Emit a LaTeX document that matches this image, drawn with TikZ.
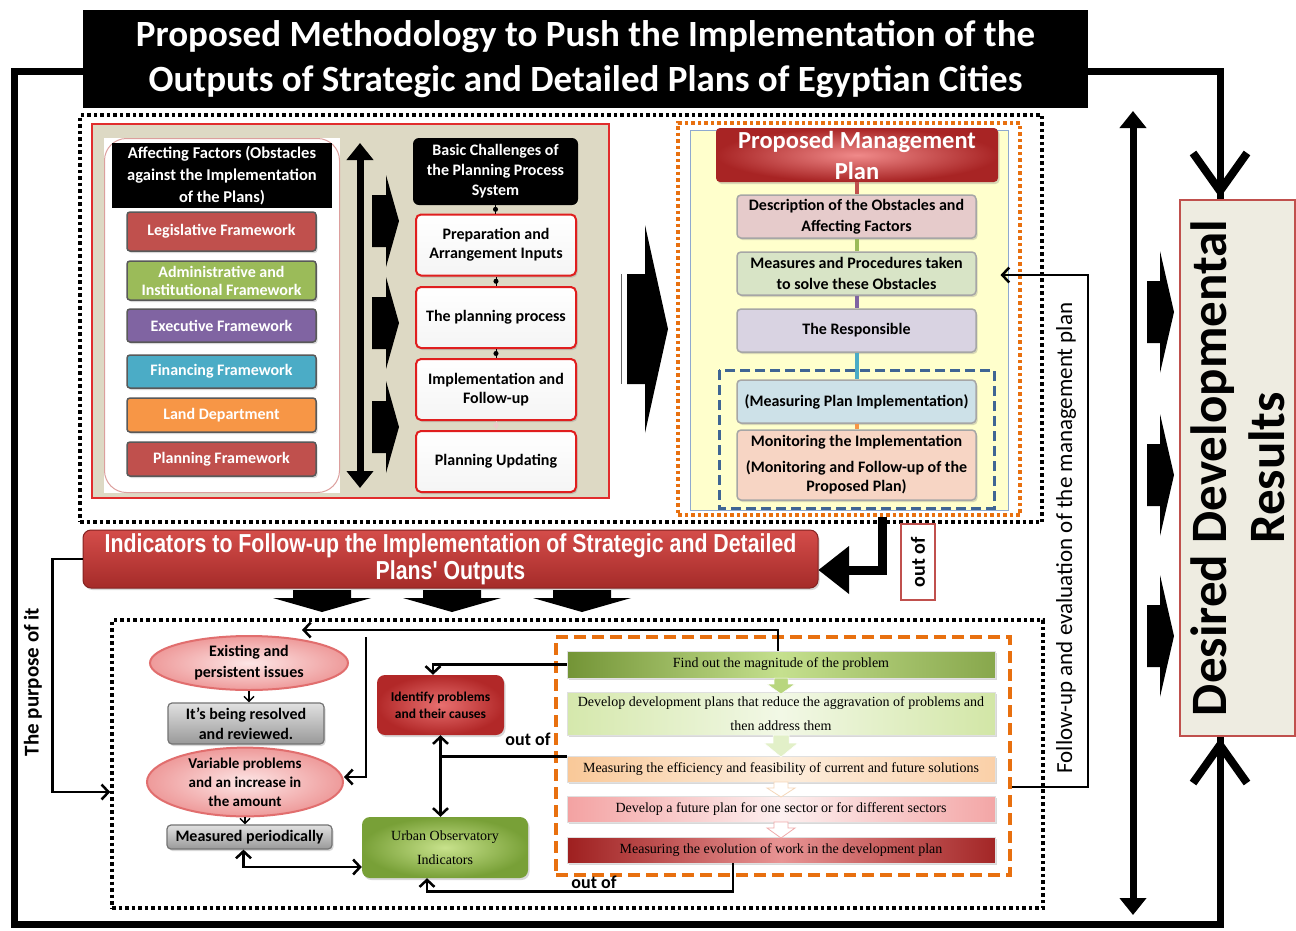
\documentclass[tikz,border=0pt]{standalone}
\usepackage{fontspec}
\setmainfont{Carlito}
\newfontfamily\serf{Liberation Serif}
\newfontfamily\narrowf[FakeStretch=0.82]{Liberation Sans}
\usetikzlibrary{shadows,arrows.meta,calc,shapes.geometric}
\newcommand\fsz[2]{\fontsize{#1}{#2}\selectfont}
\newcommand\blockR[7]{\path[#7] (#1,#4-#5) -- (#2,#4-#5) -- (#2,#4-#6) -- (#3,#4) -- (#2,#4+#6) -- (#2,#4+#5) -- (#1,#4+#5) -- cycle;}
\newcommand\blockD[7]{\path[#7] (#1-#5,#2) -- (#1+#5,#2) -- (#1+#5,#3) -- (#1+#6,#3) -- (#1,#4) -- (#1-#6,#3) -- (#1-#5,#3) -- cycle;}
\definecolor{redA}{HTML}{C0504D}
\definecolor{greenA}{HTML}{9BBB59}
\definecolor{purpleA}{HTML}{8064A2}
\definecolor{cyanA}{HTML}{4BACC6}
\definecolor{orangeA}{HTML}{F79646}
\definecolor{beige}{HTML}{DDD9C4}
\definecolor{yel}{HTML}{FFFFCC}
\definecolor{blueD}{HTML}{3F6594}
\definecolor{blueL}{HTML}{8FA9CF}
\definecolor{orangeD}{HTML}{E8700F}
\definecolor{pinkbox}{HTML}{E6CBCB}
\definecolor{greenbox}{HTML}{D8E4C6}
\definecolor{purplebox}{HTML}{D9D3E2}
\definecolor{bluebox}{HTML}{CDE1E8}
\definecolor{peachbox}{HTML}{F7D5C4}
\definecolor{resfill}{HTML}{EEECE1}
\definecolor{redT}{HTML}{D44D4A}
\definecolor{redB}{HTML}{A52B29}
\definecolor{redDark}{HTML}{A82424}
\definecolor{redLight}{HTML}{F08A8A}
\definecolor{pinkIn}{HTML}{FDE6E6}
\definecolor{pinkOut}{HTML}{EE9A9A}
\definecolor{grnDark}{HTML}{739436}
\definecolor{grnLight}{HTML}{C5E08E}
\definecolor{grnMid}{HTML}{B8D67E}
\tikzset{
 dotframe/.style={draw=black, line width=3.5pt, dash pattern=on 3.5pt off 3pt},
 odotframe/.style={draw=orangeD, line width=3.5pt, dash pattern=on 3.5pt off 3pt},
 conn/.style={draw=black, line width=2.5pt},
 barb/.tip={Straight Barb[length=7pt,width=15pt]},
 sm/.tip={Straight Barb[length=5pt,width=10pt]},
 bigtri/.tip={Triangle[length=17pt,width=26pt]},
 shad/.style={drop shadow={opacity=0.3,shadow xshift=1.5pt,shadow yshift=-2pt}},
 colbox/.style={shad, rounded corners=3pt, draw=black!65, line width=1.5pt, text=white, font=\bfseries\fsz{16}{18}, minimum width=189, align=center, inner sep=1pt},
 hdr/.style={fill=black, text=white, align=center, inner sep=1pt},
 wbox/.style={shad, rounded corners=5pt, draw={rgb,255:red,224;green,30;blue,30}, line width=2pt, top color=white, bottom color=black!4, font=\bfseries\fsz{16}{19}, minimum width=160, minimum height=61, align=center, inner sep=1pt},
 mbox/.style={shad, rounded corners=4pt, draw=black!35, line width=1.5pt, font=\bfseries\fsz{16}{21}, minimum width=239, minimum height=43, align=center, inner sep=1pt},
 sbox/.style={shad, draw=black!12, line width=0.8pt, minimum width=428, minimum height=26, font=\serf\fsz{14}{17}, align=center, inner sep=1pt},
 ell/.style={ellipse, draw={rgb,255:red,225;green,110;blue,110}, line width=2pt, inner color=pinkIn, outer color=pinkOut, font=\bfseries\fsz{16}{21}, align=center, inner sep=0pt},
 gbox/.style={shad, rounded corners=4pt, draw=black!55, line width=1.2pt, top color=black!12, bottom color=black!40, font=\bfseries\fsz{16}{20}, align=center, inner sep=1pt},
 lab/.style={font=\bfseries\fsz{18}{20}},
}
\begin{document}
\begin{tikzpicture}[x=1pt,y=-1pt]
\useasboundingbox (0,0) rectangle (1296,930);
\fill[white] (0,0) rectangle (1296,930);
% ---------- results box and outer frame
\node[draw=redA, line width=2pt, fill=resfill, minimum width=115, minimum height=536, inner sep=0] (res) at (1237.5,468) {};
\node[rotate=90, align=center, font=\bfseries\fsz{51}{58}] (restext) at (res.center) {Desired Developmental\\Results};
\coordinate (tl) at (14,71); \coordinate (tr) at (1220,71);
\coordinate (bl) at (14,924); \coordinate (br) at (1220,924);
\draw[line width=7pt] (res.north -| tr) -- (tr) -- (tl) -- (bl) -- (br) -- (res.south -| br);
\draw[line width=8pt] ($(res.north -| tr)+(-27,-46)$) -- ($(res.north -| tr)+(0,-8)$) -- ($(res.north -| tr)+(27,-46)$);
\draw[line width=8pt] ($(res.south -| br)+(-27,46)$) -- ($(res.south -| br)+(0,8)$) -- ($(res.south -| br)+(27,46)$);
% ---------- title
\node[fill=black, minimum width=1005, minimum height=98, inner sep=0, text=white, align=center, font=\bfseries\fsz{37}{45}] (title) at (585.5,59) {Proposed Methodology to Push the Implementation of the\\Outputs of Strategic and Detailed Plans of Egyptian Cities};
% ---------- top frame
\node[dotframe, minimum width=962, minimum height=407, inner sep=0] (tfr) at (561,318.5) {};
% ---------- left panel
\node[draw={rgb,255:red,225;green,45;blue,45}, line width=1.2pt, fill=beige, minimum width=517, minimum height=374, inner sep=0] (lpan) at (350.5,311) {};
\fill[white] (104,138) rectangle (340,493);
\draw[draw=redA!55, line width=1pt, rounded corners=22pt] (104.5,138.5) rectangle (339.5,492.5);
\node[hdr, minimum width=220, minimum height=65, font=\bfseries\fsz{16.5}{22}] (aff) at (222,175.5) {Affecting Factors (Obstacles\\against the Implementation\\of the Plans)};
\node[colbox, fill=redA, minimum height=39] (leg) at (221.5,231.5) {Legislative Framework};
\node[colbox, fill=greenA, minimum height=39] (adm) at (221.5,280.5) {Administrative and\\Institutional Framework};
\node[colbox, fill=purpleA, minimum height=33] (exe) at (221.5,325.5) {Executive Framework};
\node[colbox, fill=cyanA, minimum height=33] (fin) at (221.5,371.5) {Financing Framework};
\node[colbox, fill=orangeA, minimum height=34] (land) at (221.5,415) {Land Department};
\node[colbox, fill=redA, minimum height=34] (planf) at (221.5,459) {Planning Framework};
\coordinate (va1) at (360,143); \coordinate (va2) at (360,488);
\draw[line width=7pt, {bigtri}-{bigtri}] (va1) -- (va2);
\blockR{372}{386}{399}{221}{26}{46}{fill=black}
\blockR{372}{386}{399}{323}{26}{46}{fill=black}
\blockR{372}{386}{399}{427}{26}{46}{fill=black}
\node[hdr, rounded corners=6pt, minimum width=165, minimum height=67, font=\bfseries\fsz{16}{20}] (bc) at (495.5,171.5) {Basic Challenges of\\the Planning Process\\System};
\node[wbox] (prep) at (496,245) {Preparation and\\Arrangement Inputs};
\node[wbox] (proc) at (496,317.5) {The planning process};
\node[wbox] (impl) at (496,389.5) {Implementation and\\Follow-up};
\node[wbox] (upd) at (496,461.5) {Planning Updating};
\foreach \a/\b in {bc/prep,prep/proc,proc/impl}
  \draw[line width=0.6pt] (\a.south) -- node[circle,fill=black,inner sep=1.8pt]{} (\a.south |- \b.north);
\draw[line width=0.6pt, redA!30] (impl.south) -- node[circle,fill=redA!30,inner sep=1.8pt]{} (upd.north);
% ---------- big arrow between panels
\blockR{627}{645}{668}{329}{55}{104}{fill=black}
\draw[black!60, line width=1.5pt] (621.5,274) -- (621.5,384);
% ---------- right panel
\node[odotframe, minimum width=342, minimum height=392, inner sep=0] (ofr) at (849,319) {};
\node[draw=blueL, line width=1pt, fill=yel, minimum width=318, minimum height=380, inner sep=0] (ypan) at (849,320) {};
\node[shad, rounded corners=4pt, inner color=redLight, outer color=redDark, text=white, minimum width=282, minimum height=54, inner sep=0, align=center, font=\bfseries\fsz{24.5}{31}] (mp) at (857,155) {Proposed Management\\Plan};
\node[mbox, fill=pinkbox] (desc) at (856.5,216.5) {Description of the Obstacles and\\Affecting Factors};
\node[mbox, fill=greenbox] (meas) at (856.5,273.5) {Measures and Procedures taken\\to solve these Obstacles};
\node[mbox, fill=purplebox] (resp) at (856.5,330.5) {The Responsible};
\draw[draw=blueD, line width=3pt, dash pattern=on 10pt off 5pt] (719,370) rectangle (994,508);
\node[mbox, fill=bluebox] (mpi) at (856.5,401.5) {(Measuring Plan Implementation)};
\node[mbox, fill=peachbox, minimum height=70, font=\bfseries\fsz{16}{19}] (mon) at (856.5,465) {Monitoring the Implementation\\[7pt](Monitoring and Follow-up of the\\Proposed Plan)};
\draw[line width=4pt, redA] (mp.south -| desc.north) -- (desc.north);
\draw[line width=4pt, greenA] (desc.south) -- (meas.north);
\draw[line width=4pt, purpleA] (meas.south) -- (resp.north);
\draw[line width=4pt, cyanA] (resp.south) -- (mpi.north);
\draw[line width=4pt, orangeA] (mpi.south) -- (mon.north);
% ---------- right side elements
\draw[line width=7pt, {bigtri}-{bigtri}] (1133,111) -- (1133,915);
\blockR{1147}{1160}{1174}{312}{31}{61}{fill=black}
\blockR{1147}{1160}{1174}{475}{31}{61}{fill=black}
\blockR{1147}{1160}{1174}{636}{31}{61}{fill=black}
% ---------- indicators
\node[shad, rounded corners=8pt, top color=redT, bottom color=redB, draw=redB!80!black, line width=1pt, text=white, minimum width=735, minimum height=58, inner sep=0, align=center, font=\narrowf\bfseries\fsz{26}{27}] (ind) at (450.5,559) {Indicators to Follow-up the Implementation of Strategic and Detailed\\Plans' Outputs};
\draw[line width=9pt] ([xshift=33pt]ofr.south) |- (849,570);
\fill (849,546) -- (ind.east |- 0,570) -- (849,594) -- cycle;
\node[draw=redA, line width=1.2pt, fill=white, rotate=90, minimum width=76, minimum height=34, inner sep=0, font=\bfseries\fsz{20}{22}] (o1) at (918,562) {out of};
\blockD{322}{590}{598}{612}{29}{49}{fill=black}
\blockD{452}{590}{598}{612}{29}{49}{fill=black}
\blockD{582}{590}{598}{612}{29}{49}{fill=black}
% ---------- bottom region
\node[dotframe, minimum width=931, minimum height=288, inner sep=0] (bfr) at (577.5,764) {};
\draw[conn,-{barb}] (ind.west) -- ++(-30,0) |- ([yshift=-28pt]bfr.west);
\node[rotate=90, font=\bfseries\fsz{21}{24}] (purp) at (33,682) {The purpose of it};
\node[draw=orangeD, line width=3.5pt, dash pattern=on 12pt off 6pt, minimum width=454, minimum height=238, inner sep=0] (obox) at (783,756) {};
\node[sbox, left color=grnDark, right color=grnDark!75!grnLight, middle color=grnLight, minimum height=27] (fmag) at (781,664.5) {Find out the magnitude of the problem};
\node[sbox, left color={rgb,255:red,213;green,232;blue,172}, right color={rgb,255:red,210;green,230;blue,166}, middle color={rgb,255:red,242;green,248;blue,230}, minimum height=43, font=\serf\fsz{14}{24}] (dev) at (781,713.5) {Develop development plans that reduce the aggravation of problems and\\then address them};
\node[sbox, left color={rgb,255:red,249;green,200;blue,152}, right color={rgb,255:red,250;green,208;blue,168}, middle color={rgb,255:red,253;green,238;blue,221}] (eff) at (781,769) {Measuring the efficiency and feasibility of current and future solutions};
\node[sbox, left color={rgb,255:red,243;green,162;blue,162}, right color={rgb,255:red,243;green,166;blue,166}, middle color={rgb,255:red,253;green,240;blue,240}] (fut) at (781,809) {Develop a future plan for one sector or for different sectors};
\node[sbox, left color={rgb,255:red,158;green,31;blue,31}, right color={rgb,255:red,163;green,38;blue,38}, middle color={rgb,255:red,232;green,148;blue,148}] (evo) at (781,850) {Measuring the evolution of work in the development plan};
\blockD{781}{678}{684}{694}{7}{14}{fill=grnMid, draw=white, line width=0.5pt}
\blockD{781}{735}{743}{757}{8}{17}{fill={rgb,255:red,226;green,240;blue,200}, draw=white, line width=0.5pt}
\blockD{781}{782}{788}{797}{7}{14}{fill=white, draw={rgb,255:red,245;green,215;blue,185}, line width=0.8pt}
\blockD{781}{822}{828}{838}{7}{14}{fill=white, draw={rgb,255:red,240;green,170;blue,170}, line width=0.8pt}
\node[ell, minimum width=198, minimum height=54] (e1) at (249,663) {Existing and\\persistent issues};
\node[gbox, minimum width=156, minimum height=41] (g1) at (246,723.5) {It's being resolved\\and reviewed.};
\node[ell, minimum width=196, minimum height=62, font=\bfseries\fsz{15}{19}] (e2) at (245,782) {Variable problems\\and an increase in\\the amount};
\node[gbox, minimum width=165, minimum height=24] (g2) at (249.5,837) {Measured periodically};
\node[shad, rounded corners=8pt, inner color={rgb,255:red,232;green,112;blue,112}, outer color={rgb,255:red,178;green,40;blue,40}, minimum width=127, minimum height=60, inner sep=0, align=center, font=\bfseries\fsz{13.5}{17}] (iden) at (440.5,705) {Identify problems\\and their causes};
\node[shad, rounded corners=8pt, inner color={rgb,255:red,200;green,226;blue,140}, outer color={rgb,255:red,120;green,160;blue,55}, minimum width=166, minimum height=61, inner sep=0, align=center, font=\serf\fsz{14}{24}] (urb) at (445,847.5) {Urban Observatory\\Indicators};
\draw[line width=1.5pt, -{sm}] (e1.south) -- (e1.south |- g1.north);
\draw[line width=1.5pt, -{sm}] (e2.south) -- (e2.south |- g2.north);
\coordinate (e1tip) at (302,630);
\draw[conn,-{barb}] ([xshift=-3pt]fmag.north) |- (e1tip);
\coordinate (vtop) at (366,637);
\draw[conn,-{barb}] (vtop) |- ([yshift=5pt]e2.east);
\draw[conn,-{barb}] (fmag.west) -| ([xshift=-7.5pt]iden.north);
\draw[conn,{barb}-{barb}] (iden.south) -- (iden.south |- urb.north);
\draw[conn] ($(iden.south |- eff.north west)+(0,1)$) -- ($(eff.north west)+(0,1)$);
\draw[conn,{barb}-{barb}] ([xshift=-6pt]g2.south) |- ([yshift=-19.5pt]urb.west);
\draw[conn,-{barb}] ([xshift=-48pt]evo.south) -- ++(0,28) -| ([xshift=-18pt]urb.south);
\node[lab] (o2) at (528,739) {out of};
\node[lab] (o3) at (594,882) {out of};
% ---------- follow-up loop
\draw[conn,-{barb}, shorten >=-8pt] ([yshift=-31pt]obox.east) -| (1088,275) -- (ypan.east |- 0,275);
\node[rotate=90, font=\fsz{23}{26}] (fup) at (1066,538) {Follow-up and evaluation of the management plan};
\end{tikzpicture}
\end{document}
